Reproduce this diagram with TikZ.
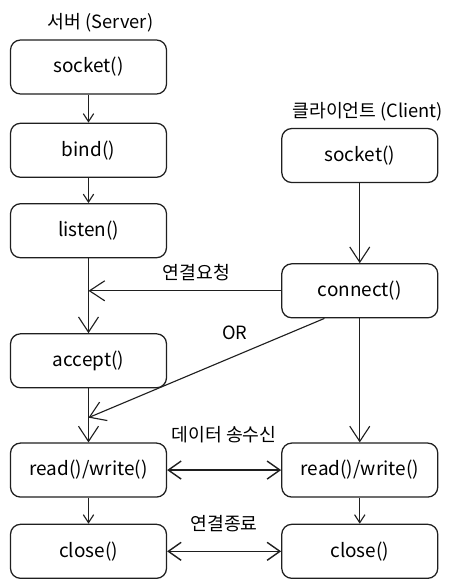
\documentclass[tikz,border=0pt]{standalone}
\usepackage{fontspec}
\setmainfont{Noto Sans CJK KR}
\usetikzlibrary{arrows.meta, calc, positioning}

\begin{document}
\begin{tikzpicture}[
          node distance=0.7cm,
          box/.style={rectangle, rounded corners=0.25cm, draw=black!88, line width=0.9pt, minimum width=3.9cm, minimum height=1.35cm, font=\fontsize{13.5}{15}\selectfont},
          title/.style={font=\fontsize{13}{15}\selectfont},
          note/.style={font=\fontsize{13}{15}\selectfont},
          arrow/.style={-{Straight Barb[length=0.2cm, width=0.26cm]}, line width=0.8pt, draw=black!88},
          bigarrow/.style={-{Straight Barb[length=0.38cm, width=0.5cm]}, line width=0.8pt, draw=black!88},
          twoway/.style={{Straight Barb[length=0.32cm, width=0.45cm]}-{Straight Barb[length=0.32cm, width=0.45cm]}, line width=1pt, draw=black!88}
        ]
          \useasboundingbox (-2.2125,1.675) rectangle (9.0875,-12.925);

          % server side
          \node[box] (ssock) {socket()};
          \node[box, below=0.7cm of ssock] (sbind) {bind()};
          \node[box, below=0.63cm of sbind] (slisten) {listen()};
          \node[box, below=1.87cm of slisten] (saccept) {accept()};
          \node[box, below=1.35cm of saccept] (srw) {read()/write()};
          \node[box, below=0.65cm of srw] (sclose) {close()};
          \node[title, above=0.05cm of ssock, xshift=0.3cm] (stitle) {서버 (Server)};

          % client side
          \node[box, right=2.85cm of srw] (crw) {read()/write()};
          \node[box, right=2.85cm of sclose] (cclose) {close()};
          \node[box, above=3.1cm of crw] (cconn) {connect()};
          \node[box, above=2.0cm of cconn] (csock) {socket()};
          \node[title, above=0.05cm of csock, xshift=0.2cm] (ctitle) {클라이언트 (Client)};

          \coordinate (reqend) at (cconn.west -| slisten.south);
          \coordinate (orstart) at ($(cconn.south west)!0.55!(cconn.south)$);
          \coordinate (orend) at ([yshift=0.62cm]srw.north);

          \draw[arrow] (ssock) -- (sbind);
          \draw[arrow] (sbind) -- (slisten);
          \draw[bigarrow] (slisten) -- (saccept);
          \draw[bigarrow] (saccept) -- (srw);
          \draw[arrow] (srw) -- (sclose);

          \draw[bigarrow] (csock) -- (cconn);
          \draw[bigarrow] (cconn) -- (crw);
          \draw[arrow] (crw) -- (cclose);

          \draw[bigarrow] (cconn.west) -- node[note, above=3pt, pos=0.44] {연결요청} (reqend);
          \draw[bigarrow] (orstart) -- node[title, above=8pt, pos=0.38] {OR} (orend);
          \draw[twoway] (srw) -- node[note, above=0.55cm] {데이터 송수신} (crw);
          \draw[twoway] (sclose) -- node[note, above=0.36cm] {연결종료} (cclose);
        \end{tikzpicture}
\end{document}
